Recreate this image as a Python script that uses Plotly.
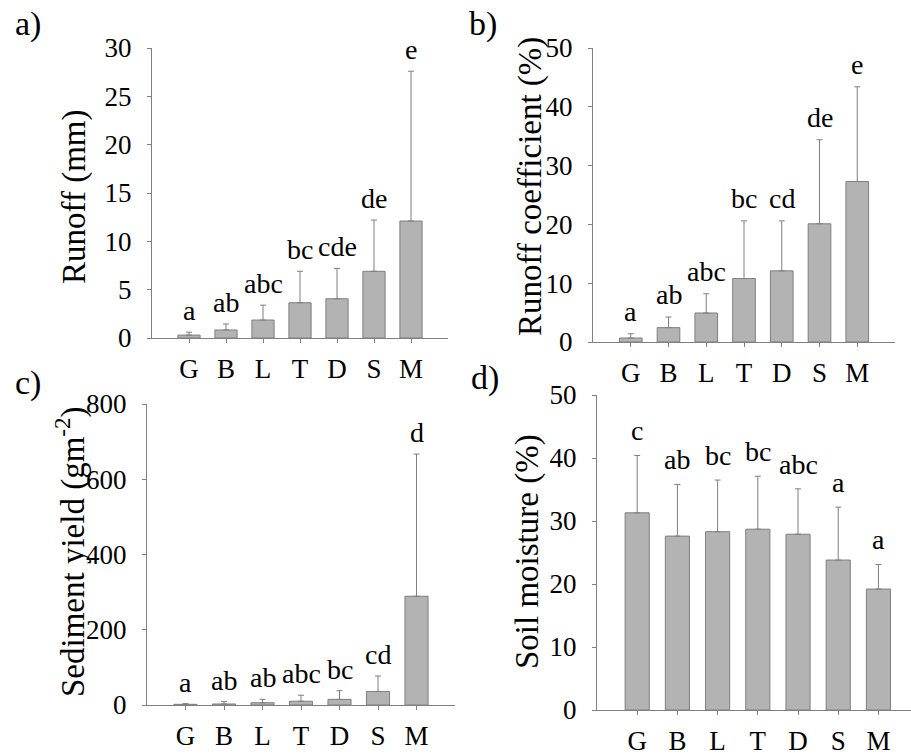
import plotly.graph_objects as go

categories = ["G", "B", "L", "T", "D", "S", "M"]

runoff = [0.3, 0.83, 1.86, 3.65, 4.06, 6.9, 12.1]
runoff_err = [0.3, 0.62, 1.54, 3.25, 3.14, 5.3, 15.5]
runoff_letters = ["a", "ab", "abc", "bc", "cde", "de", "e"]

coef = [0.68, 2.44, 4.93, 10.8, 12.1, 20.1, 27.3]
coef_err = [0.72, 1.81, 3.27, 9.8, 8.5, 14.3, 16.1]
coef_letters = ["a", "ab", "abc", "bc", "cd", "de", "e"]

sediment = [1.8, 2.7, 6, 10, 15, 36, 289]
sediment_err = [1.7, 6.3, 9, 16, 23, 41, 378]
sediment_letters = ["a", "ab", "ab", "abc", "bc", "cd", "d"]

moisture = [31.3, 27.6, 28.3, 28.7, 27.9, 23.8, 19.2]
moisture_err = [9.1, 8.2, 8.2, 8.4, 7.2, 8.4, 3.9]
moisture_letters = ["c", "ab", "bc", "bc", "abc", "a", "a"]

W, H = 911, 755
FONT = "Times New Roman"
BAR_FILL = "#b3b3b3"
BAR_LINE = "#7f7f7f"
AX = "#808080"


def px_x(p):
    return p / W


def px_y(p):
    return 1 - p / H


panels = [
    dict(v=runoff, e=runoff_err, l=runoff_letters, t="Runoff (mm)", yr=[0, 30], dt=5,
         xd=(152, 448), yd=(48, 338), xr=[-1, 7], tp=(75, 197), pl="a)", pp=(28, 24), ys=4),
    dict(v=coef, e=coef_err, l=coef_letters, t="Runoff coefficient (%)", yr=[0, 50], dt=10,
         xd=(593, 895), yd=(48, 342), xr=[-1, 7], tp=(530, 187), pl="b)", pp=(483, 24), ys=5),
    dict(v=sediment, e=sediment_err, l=sediment_letters, t="Sediment yield (gm<sup>-2</sup>)", yr=[0, 800], dt=200,
         xd=(147, 455), yd=(404, 705), xr=[-1, 7], tp=(70, 552), pl="c)", pp=(28, 383), ys=4),
    dict(v=moisture, e=moisture_err, l=moisture_letters, t="Soil moisture (%)", yr=[0, 50], dt=10,
         xd=(597, 911), yd=(395, 710), xr=[-1, 6.81], tp=(527, 552), pl="d)", pp=(485, 378), ys=7),
]

fig = go.Figure()
annotations = []
for i, p in enumerate(panels):
    n = "" if i == 0 else str(i + 1)
    xa, ya = "x" + n, "y" + n
    fig.add_trace(go.Bar(
        x=list(range(len(categories))), y=p["v"], xaxis=xa, yaxis=ya,
        width=0.6, marker=dict(color=BAR_FILL, line=dict(color=BAR_LINE, width=1)),
        error_y=dict(type="data", array=p["e"], arrayminus=[0] * len(categories), symmetric=False,
                     color=BAR_LINE, thickness=1, width=3),
        showlegend=False, hoverinfo="skip",
    ))
    fig.update_layout(**{
        "xaxis" + n: dict(
            domain=[px_x(p["xd"][0]), px_x(p["xd"][1])], range=p["xr"], anchor=ya,
            tickmode="array", tickvals=list(range(len(categories))), ticktext=categories,
            showline=True, linecolor=AX, linewidth=1, showgrid=False, zeroline=False,
            ticks="outside", ticklen=4, tickcolor=AX, ticklabelstandoff=3, automargin=False,
            tickfont=dict(family=FONT, size=27, color="black"), fixedrange=True,
        ),
        "yaxis" + n: dict(
            domain=[px_y(p["yd"][1]), px_y(p["yd"][0])], range=p["yr"], anchor=xa,
            tickmode="linear", tick0=0, dtick=p["dt"],
            showline=True, linecolor=AX, linewidth=1, showgrid=False, zeroline=False,
            ticks="outside", ticklen=4, tickcolor=AX, ticklabelstandoff=10, automargin=False,
            tickfont=dict(family=FONT, size=27, color="black"), fixedrange=True,
        ),
    })
    annotations.append(dict(
        xref="paper", yref="paper", x=px_x(p["tp"][0]), y=px_y(p["tp"][1]),
        text=p["t"], textangle=-90, showarrow=False, xanchor="center", yanchor="middle",
        font=dict(family=FONT, size=33, color="black"),
    ))
    annotations.append(dict(
        xref="paper", yref="paper", x=px_x(p["pp"][0]), y=px_y(p["pp"][1]),
        text=p["pl"], showarrow=False, xanchor="center", yanchor="middle",
        font=dict(family=FONT, size=34, color="black"),
    ))
    for j, (v, e, lt) in enumerate(zip(p["v"], p["e"], p["l"])):
        annotations.append(dict(
            xref=xa, yref=ya, x=j, y=v + e, text=lt, showarrow=False,
            xanchor="center", yanchor="bottom", yshift=p["ys"],
            font=dict(family=FONT, size=28, color="black"),
        ))

fig.update_layout(
    width=W, height=H, margin=dict(l=0, r=0, t=0, b=0, autoexpand=False),
    paper_bgcolor="white", plot_bgcolor="white",
    annotations=annotations, bargap=0.4,
    font=dict(family=FONT, color="black"),
)

fig.write_html("out.html", config={"displayModeBar": False},
               post_script="document.body.style.margin='0';")
